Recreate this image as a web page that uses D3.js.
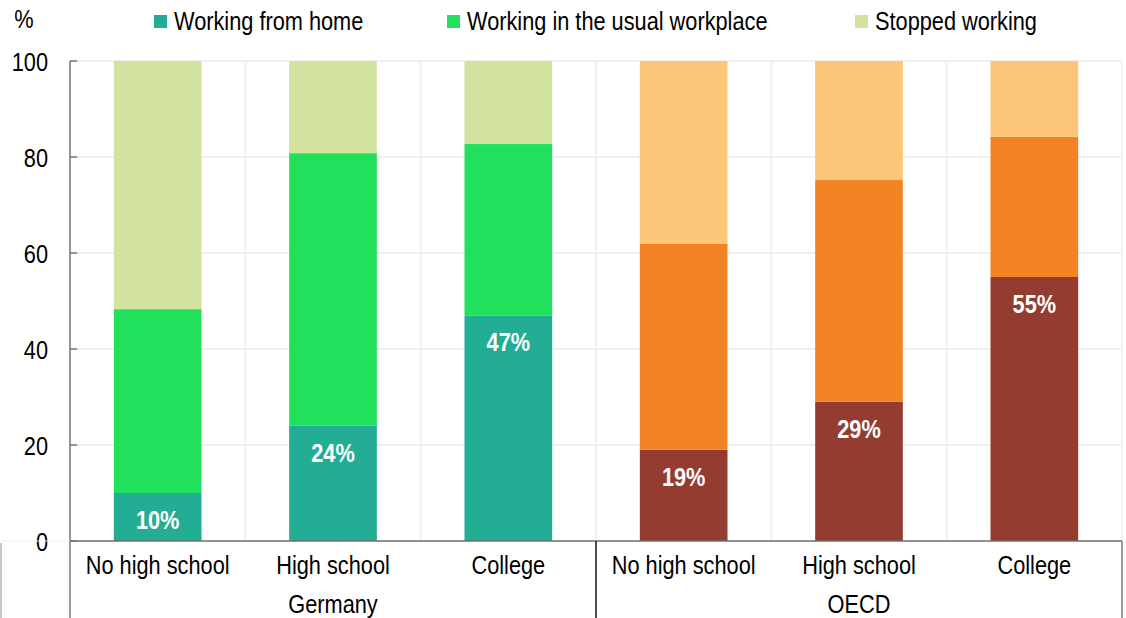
<!DOCTYPE html>
<html>
<head>
<meta charset="utf-8">
<script src="https://cdn.jsdelivr.net/npm/d3@7/dist/d3.min.js"></script>
<style>
  html, body { margin: 0; padding: 0; background: #fff; }
  svg { display: block; }
  text { font-family: "Liberation Sans", Arial, sans-serif; fill: #000; font-size: 25px; }
</style>
</head>
<body>
<svg id="chart" width="1126" height="618"></svg>
<script>
// Share of workers by education level, Germany vs OECD (%)
const groups = ["Germany", "OECD"];
const levels = ["No high school", "High school", "College"];
const seriesNames = ["Working from home", "Working in the usual workplace", "Stopped working"];

const germanyHome    = [10, 24, 47];
const germanyUsual   = [38.3, 56.8, 35.7];
const germanyStopped = [51.7, 19.2, 17.3];

const oecdHome    = [19, 29, 55];
const oecdUsual   = [42.9, 46.2, 29.2];
const oecdStopped = [38.1, 24.8, 15.8];

const yTicks = [0, 20, 40, 60, 80, 100];

const germanyColors = ["#23ad94", "#21e05c", "#d2e3a0"];
const oecdColors    = ["#943c2f", "#f28323", "#fdc577"];

// condensed look: text is squeezed horizontally
const SX = 0.87;
const at = (px, py) => `translate(${px},${py}) scale(${SX},1)`;

// build one row per bar
const rows = [];
groups.forEach((g, gi) => {
  const home = gi === 0 ? germanyHome : oecdHome;
  const usual = gi === 0 ? germanyUsual : oecdUsual;
  const stopped = gi === 0 ? germanyStopped : oecdStopped;
  levels.forEach((lv, li) => {
    rows.push({
      key: g + "|" + lv, group: g, level: lv, gi,
      home: home[li], usual: usual[li], stopped: stopped[li]
    });
  });
});

const svg = d3.select("#chart");
const plotLeft = 70, plotRight = 1122, plotTop = 61, plotBottom = 541;

const x = d3.scaleBand()
  .domain(rows.map(d => d.key))
  .range([plotLeft, plotRight])
  .paddingInner(0.5)
  .paddingOuter(0.25);

const y = d3.scaleLinear().domain([0, 100]).range([plotBottom, plotTop]);

// gridlines
const grid = svg.append("g");
grid.selectAll("line.h").data(yTicks.filter(t => t > 0)).join("line")
  .attr("x1", plotLeft).attr("x2", plotRight)
  .attr("y1", d => y(d)).attr("y2", d => y(d))
  .attr("stroke", "#f0f0f0").attr("stroke-width", 2);
const step = x.step();
const boundaries = d3.range(1, rows.length + 1).map(i => plotLeft + i * step);
grid.selectAll("line.v").data(boundaries).join("line")
  .attr("x1", d => d).attr("x2", d => d)
  .attr("y1", plotTop).attr("y2", plotBottom)
  .attr("stroke", "#f0f0f0").attr("stroke-width", 2);

// stacked bars
const stack = d3.stack().keys(["home", "usual", "stopped"]);
const layers = stack(rows);
const barG = svg.append("g");
layers.forEach((layer, li) => {
  barG.selectAll(null).data(layer).join("rect")
    .attr("x", d => x(d.data.key))
    .attr("width", x.bandwidth())
    .attr("y", d => y(d[1]))
    .attr("height", d => y(d[0]) - y(d[1]))
    .attr("fill", d => (d.data.gi === 0 ? germanyColors : oecdColors)[li]);
});

// value labels on the work-from-home segment
svg.append("g").selectAll("text").data(rows).join("text")
  .attr("transform", d => at(x(d.key) + x.bandwidth() / 2, y(d.home) + 36))
  .attr("text-anchor", "middle")
  .style("font-weight", "bold")
  .style("fill", "#fff")
  .text(d => d3.format(".0f")(d.home) + "%");

// y axis
const yAxis = d3.axisLeft(y).tickValues(yTicks).tickSize(0).tickPadding(0);
const ya = svg.append("g").attr("transform", `translate(${plotLeft},0)`).call(yAxis);
ya.select(".domain").remove();
ya.selectAll("text")
  .attr("x", null)
  .attr("dy", null)
  .attr("transform", at(-22, 9))
  .attr("text-anchor", "end")
  .style("font-size", "25px")
  .style("font-family", "Liberation Sans, Arial, sans-serif")
  .attr("fill", "#000");
svg.append("line").attr("x1", plotLeft).attr("x2", plotLeft).attr("y1", plotTop).attr("y2", plotBottom)
  .attr("stroke", "#767676").attr("stroke-width", 1.5);
svg.append("g").selectAll("line").data(yTicks).join("line")
  .attr("x1", plotLeft).attr("x2", plotLeft + 7)
  .attr("y1", d => y(d)).attr("y2", d => y(d))
  .attr("stroke", "#767676").attr("stroke-width", 1.5);

svg.append("text").attr("transform", at(24, 28)).attr("text-anchor", "middle").text("%");

// x axis baseline and category labels
svg.append("line").attr("x1", plotLeft).attr("x2", plotRight).attr("y1", plotBottom).attr("y2", plotBottom)
  .attr("stroke", "#6e6e6e").attr("stroke-width", 1.5);
svg.append("line").attr("x1", 0).attr("x2", plotLeft).attr("y1", plotBottom).attr("y2", plotBottom)
  .attr("stroke", "#f2f2f2").attr("stroke-width", 1);

svg.append("g").selectAll("text").data(rows).join("text")
  .attr("transform", d => at(x(d.key) + x.bandwidth() / 2, 574))
  .attr("text-anchor", "middle")
  .text(d => d.level);

// group separators and group labels
const groupEdges = [plotLeft, plotLeft + 3 * step, plotRight];
svg.append("g").selectAll("line").data(groupEdges).join("line")
  .attr("x1", d => d).attr("x2", d => d)
  .attr("y1", plotBottom).attr("y2", 618)
  .attr("stroke", (d, i) => i === 1 ? "#111" : "#7a7a7a")
  .attr("stroke-width", 1.5);
svg.append("line").attr("x1", 1).attr("x2", 1).attr("y1", plotBottom + 2).attr("y2", 618)
  .attr("stroke", "#b5b5b5").attr("stroke-width", 1.5);

svg.append("g").selectAll("text").data(groups).join("text")
  .attr("transform", (d, i) => at((groupEdges[i] + groupEdges[i + 1]) / 2, 613))
  .attr("text-anchor", "middle")
  .text(d => d);

// legend
const legendX = [154, 447, 855];
const lg = svg.append("g").selectAll("g").data(seriesNames).join("g")
  .attr("transform", (d, i) => `translate(${legendX[i]},0)`);
lg.append("rect").attr("x", 0).attr("y", 15).attr("width", 13).attr("height", 13)
  .attr("fill", (d, i) => germanyColors[i]);
lg.append("text").attr("transform", at(20, 30)).text(d => d);
</script>
</body>
</html>
